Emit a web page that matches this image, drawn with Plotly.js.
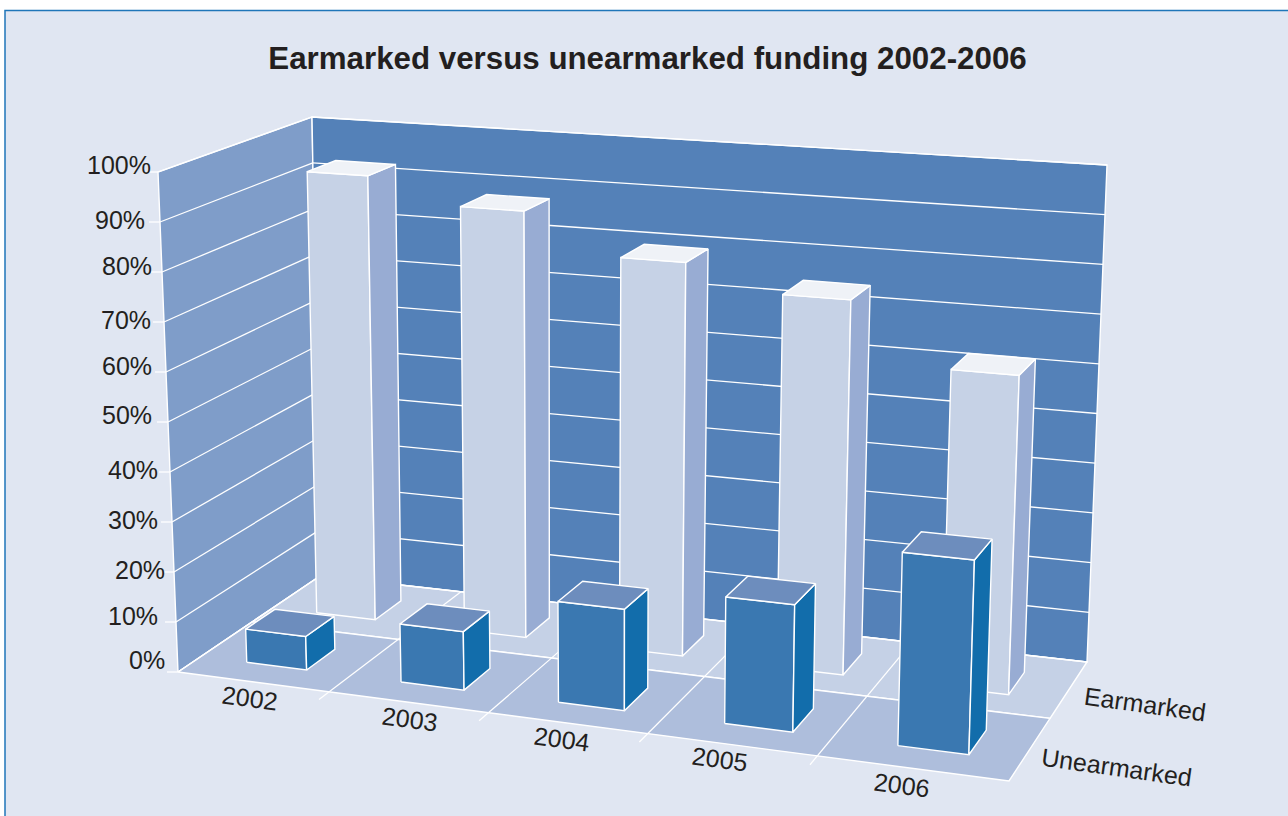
<!DOCTYPE html>
<html><head><meta charset="utf-8">
<script src="https://cdn.plot.ly/plotly-3.0.1.min.js"></script>
<style>html,body{margin:0;padding:0;background:#fff;overflow:hidden}</style>
</head><body><div id="chart" style="width:1288px;height:816px"></div>
<script>
// ---- data ----
const years = ['2002','2003','2004','2005','2006'];
const rows = ['Unearmarked','Earmarked'];
const unearmarked = [6.7, 11.5, 19.6, 24.2, 36.3];
const earmarked = [92.9, 87.8, 79.7, 74.7, 62.5];
const valueTicks = [0,10,20,30,40,50,60,70,80,90,100];
const valueTickText = ['0%','10%','20%','30%','40%','50%','60%','70%','80%','90%','100%'];

// ---- view of the box (pixel position of its eight corners) ----
const floorQuad = [[178,672],[1009,781],[1087,662],[320,576]];
const topQuad = [[158,172],[1026,233],[1107,165],[312,117]];
// category band along the year axis (fractions of its length)
const bandEdges = [0.2025,0.405,0.5975,0.792];
const bandCentreU = [0.1035,0.309,0.508,0.707,0.904];
const bandCentreE = [0.103,0.307,0.51,0.707,0.902];
const bandWidthU = [0.081,0.081,0.0805,0.079,0.078];
const bandWidthE = [0.082,0.082,0.08,0.08,0.0765];
const rowGapFrac = 0.30, rowBarFrac = 0.40;

// ---- text placement ----
const valueLabelRight = [167,160,167,160,160,154,154,153,154,147,153];
const valueLabelY = [660,616,570,520,470,415,366,320,266,220,165];
const yearLabelPos = [[250,698],[410,719],[562,739],[720,759],[902,785]];
const rowLabelPos = [[1116,767],[1145,704]];

const C = {panel:'#E0E6F2',edge:'#1F76B9',back:'#5481B8',left:'#7F9DC9',floorF:'#AEBEDC',floorB:'#C5D1E6',
  E:{front:'#C6D2E6',side:'#98ACD3',top:'#EFF2F7'},U:{front:'#3A78B1',side:'#126DAB',top:'#6D8DBD'},ink:'#231F20'};

// Perspective map of the box: floor homography, verticals sharing its denominator
const [[x0,y0],[x1,y1],[x2,y2],[x3,y3]] = floorQuad;
const dx1=x1-x2,dx2=x3-x2,sx=x0-x1+x2-x3,dy1=y1-y2,dy2=y3-y2,sy=y0-y1+y2-y3;
const den=dx1*dy2-dx2*dy1,g=(sx*dy2-dx2*sy)/den,h=(dx1*sy-sx*dy1)/den;
const a=x1-x0+g*x1,b=x3-x0+h*x3,d=y1-y0+g*y1,e=y3-y0+h*y3;
const W=(u,v)=>g*u+h*v+1;
const cornerW=[W(0,0),W(1,0),W(1,1),W(0,1)];
const cornerC=topQuad.map((t,i)=>[(t[0]-floorQuad[i][0])*cornerW[i],(t[1]-floorQuad[i][1])*cornerW[i]]);
function P(u,v,z){
  const k=j=>(1-u)*(1-v)*cornerC[0][j]+u*(1-v)*cornerC[1][j]+u*v*cornerC[2][j]+(1-u)*v*cornerC[3][j];
  const w=W(u,v);
  return [(a*u+b*v+x0+z*k(0))/w,(d*u+e*v+y0+z*k(1))/w];
}

const traces=[];
function poly(pts,fill,lw){
  traces.push({type:'scatter',mode:'lines',x:pts.map(p=>p[0]).concat(pts[0][0]),y:pts.map(p=>p[1]).concat(pts[0][1]),
    fill:'toself',fillcolor:fill,line:{color:'#fff',width:lw===undefined?1.4:lw},hoverinfo:'skip',showlegend:false});
}
function line(a,b,w){
  traces.push({type:'scatter',mode:'lines',x:[a[0],b[0]],y:[a[1],b[1]],line:{color:'#fff',width:w||1.3},hoverinfo:'skip',showlegend:false});
}
// walls and floor
poly([P(0,0,0),P(0,1,0),P(0,1,1),P(0,0,1)],C.left);
poly([P(0,1,0),P(1,1,0),P(1,1,1),P(0,1,1)],C.back);
poly([P(0,.5,0),P(1,.5,0),P(1,1,0),P(0,1,0)],C.floorB);
poly([P(0,0,0),P(1,0,0),P(1,.5,0),P(0,.5,0)],C.floorF);
valueTicks.forEach(t=>{
  const z=t/100,p=P(0,0,z);
  line(p,P(0,1,z)); line(P(0,1,z),P(1,1,z));
  line(p,[p[0]-11,p[1]]);
});
bandEdges.forEach(u=>line(P(u,-0.07,0),P(u,1,0)));

function bar(uc,w,row,val,col){
  const hw=w/2,v0=(row+rowGapFrac)/2,v1=(row+rowGapFrac+rowBarFrac)/2,z=val/100,u0=uc-hw,u1=uc+hw;
  poly([P(u0,v0,0),P(u1,v0,0),P(u1,v0,z),P(u0,v0,z)],col.front);
  poly([P(u1,v0,0),P(u1,v1,0),P(u1,v1,z),P(u1,v0,z)],col.side);
  poly([P(u0,v0,z),P(u1,v0,z),P(u1,v1,z),P(u0,v1,z)],col.top);
}
earmarked.forEach((v,i)=>bar(bandCentreE[i],bandWidthE[i],1,v,C.E));
unearmarked.forEach((v,i)=>bar(bandCentreU[i],bandWidthU[i],0,v,C.U));

const font={family:'"Liberation Sans",Arial,sans-serif',size:25,color:C.ink};
const annotations=[];
function label(text,x,y,angle,anchor){
  annotations.push({text,x,y,xref:'x',yref:'y',showarrow:false,textangle:angle,xanchor:anchor,yanchor:'middle',font});
}
valueTickText.forEach((t,i)=>label(t,valueLabelRight[i],valueLabelY[i],0,'right'));
years.forEach((t,i)=>label(t,yearLabelPos[i][0],yearLabelPos[i][1],7.5,'center'));
rows.forEach((t,i)=>label(t,rowLabelPos[i][0],rowLabelPos[i][1],8,'center'));

const layout={width:1288,height:816,margin:{l:0,r:0,t:0,b:0},paper_bgcolor:'#fff',plot_bgcolor:'rgba(0,0,0,0)',showlegend:false,
  title:{text:'Earmarked versus unearmarked funding 2002-2006',x:647.5/1288,xanchor:'center',y:1-58/816,yanchor:'middle',
    font:{family:'"Liberation Sans",Arial,sans-serif',size:31.3,weight:700,color:C.ink}},
  xaxis:{range:[0,1288],visible:false,fixedrange:true},
  yaxis:{range:[816,0],visible:false,fixedrange:true},
  shapes:[{type:'rect',xref:'x',yref:'y',x0:5,y0:10.5,x1:1300,y1:830,fillcolor:C.panel,line:{color:C.edge,width:1.5},layer:'below'}],
  annotations};
Plotly.newPlot('chart',traces,layout,{displayModeBar:false,staticPlot:true});
</script></body></html>
